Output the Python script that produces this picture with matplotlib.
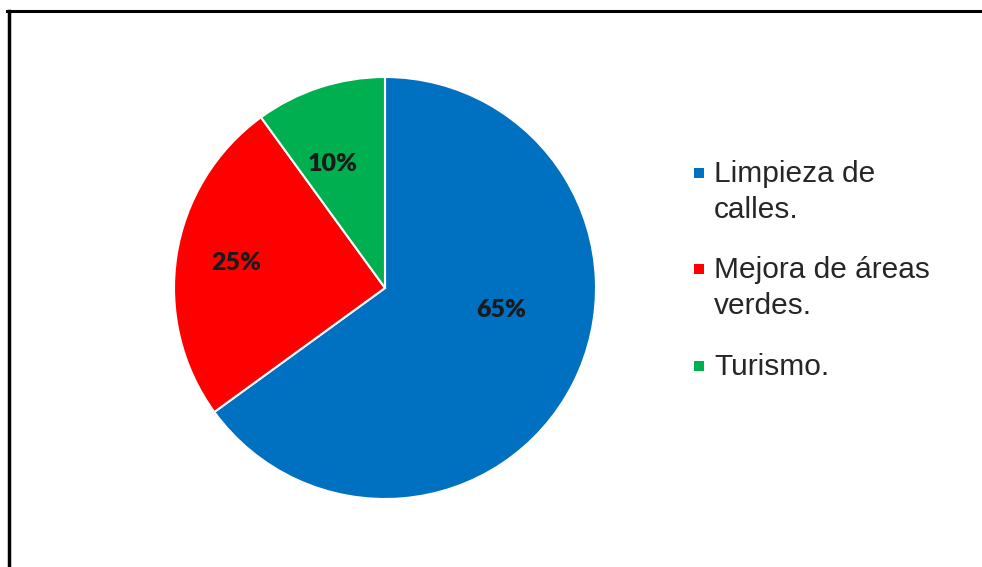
import matplotlib
matplotlib.use("Agg")

import matplotlib.pyplot as plt
from matplotlib.lines import Line2D
from matplotlib.patches import Rectangle

categories = ["Limpieza de\ncalles.", "Mejora de áreas\nverdes.", "Turismo."]
shares = [65, 25, 10]
colors = ["#0070C0", "#FF0000", "#00B050"]

# label spots inside the wedges, in units of the pie radius
label_xy = [(0.55, -0.105), (-0.706, 0.118), (-0.246, 0.588)]

W, H = 982, 567
fig = plt.figure(figsize=(W / 100, H / 100), dpi=100)
fig.patch.set_facecolor("white")

# pie: centre (385, 288), radius ~211 px
cx, cy, r = 385, 288, 211
ax = fig.add_axes([(cx - r) / W, 1 - (cy + r) / H, 2 * r / W, 2 * r / H])
wedges, _, autotexts = ax.pie(
    shares, colors=colors, startangle=90, counterclock=False,
    autopct="%d%%", radius=1,
    wedgeprops={"edgecolor": "white", "linewidth": 1.5},
    textprops={"family": "Lato", "fontweight": "heavy", "fontsize": 18, "color": "#1a1a1a"},
)
for t, (x, y) in zip(autotexts, label_xy):
    t.set_position((x, y))
    t.set_ha("center")
    t.set_va("center")
ax.set_xlim(-1, 1)
ax.set_ylim(-1, 1)
ax.set_aspect("equal")
ax.axis("off")

# legend drawn by hand: marker square + wrapped label
first_baseline = [182, 278, 375]
line_step = 36
for label, color, base in zip(categories, colors, first_baseline):
    fig.patches.append(Rectangle((694 / W, 1 - (base - 4) / H), 10 / W, 10 / H,
                                 transform=fig.transFigure, facecolor=color,
                                 edgecolor="none"))
    for i, line in enumerate(label.split("\n")):
        fig.text(714 / W, 1 - (base + i * line_step) / H, line,
                 family="Liberation Sans", fontsize=21.5, color="#262626",
                 ha="left", va="baseline")

# frame lines: top and left only
fig.add_artist(Line2D([7 / W, 1], [1 - 11 / H, 1 - 11 / H], transform=fig.transFigure,
                      color="black", linewidth=2.2))
fig.add_artist(Line2D([8.5 / W, 8.5 / W], [0, 1 - 11 / H], transform=fig.transFigure,
                      color="black", linewidth=2.5))

fig.savefig("out.png", dpi=100)
